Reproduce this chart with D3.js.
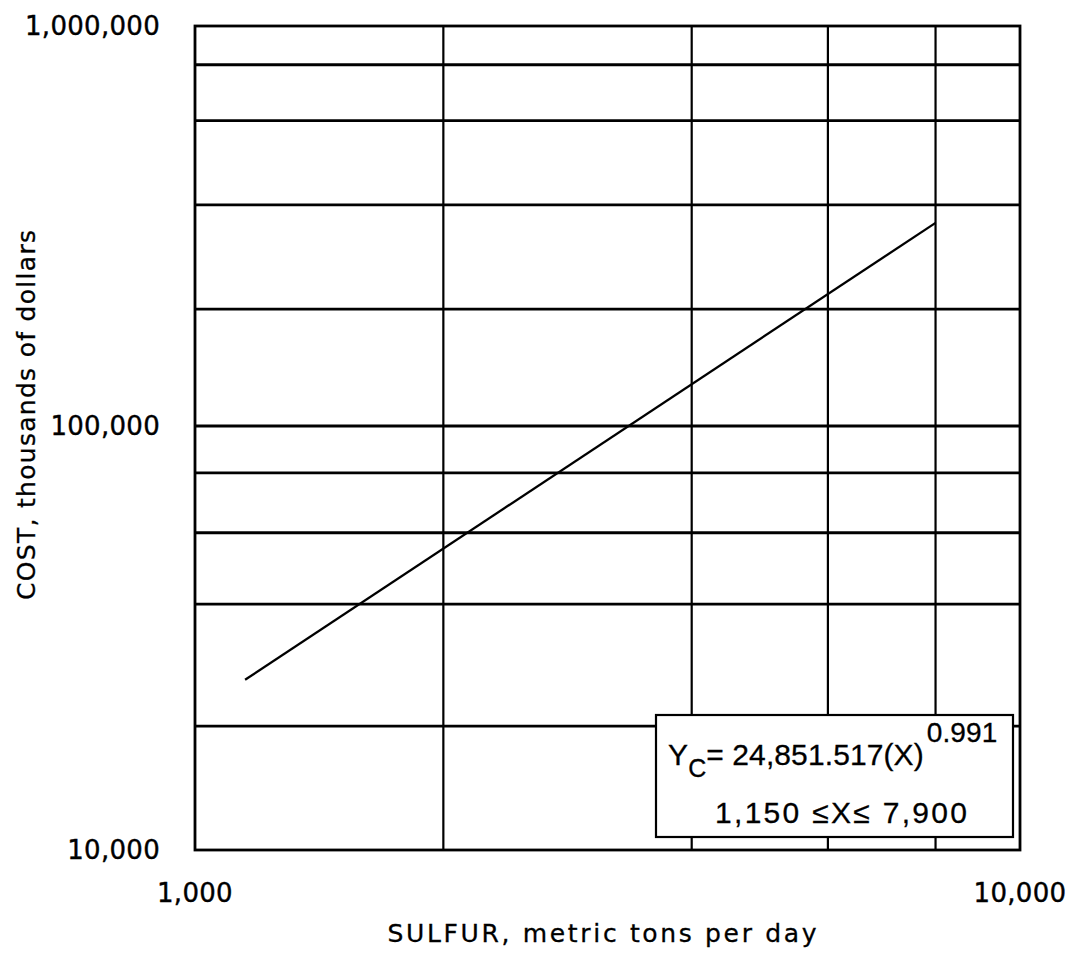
<!DOCTYPE html>
<html>
<head>
<meta charset="utf-8">
<script src="https://cdn.jsdelivr.net/npm/d3@7"></script>
<style>
  html, body { margin: 0; padding: 0; background: #fff; }
  svg { display: block; }
</style>
</head>
<body>
<svg id="chart" width="1078" height="964"></svg>
<script>
// Sulfur recovery cost curve, log-log
const xTicks = [1000, 10000];
const xTickLabels = ["1,000", "10,000"];
const yTicks = [10000, 100000, 1000000];
const yTickLabels = ["10,000", "100,000", "1,000,000"];

// intermediate grid lines
const xGrid = [2000, 4000, 5850, 7900];
const yGrid = [19600, 38000, 56000, 77500, 196000, 357000, 580000, 800000];

// fitted cost line (sulfur t/d, cost k$)
const sulfur = [1150, 7900];
const cost = [25200, 322000];

const equation = { coef: "24,851.517", exponent: "0.991", range: "1,150 \u2264X\u2264 7,900" };

const svg = d3.select("#chart");

const x = d3.scaleLog().domain([1000, 10000]).range([195, 1020]);
const y = d3.scaleLog().domain([10000, 100000, 1000000]).range([850, 426, 26]);

const tickFont = "'DejaVu Sans', sans-serif";

// grid
svg.append("g").selectAll("line").data(xGrid).join("line")
  .attr("x1", d => x(d)).attr("x2", d => x(d))
  .attr("y1", y(1000000)).attr("y2", y(10000))
  .attr("stroke", "#000").attr("stroke-width", 2.2);

svg.append("g").selectAll("line").data(yGrid.concat([100000])).join("line")
  .attr("x1", x(1000)).attr("x2", x(10000))
  .attr("y1", d => y(d)).attr("y2", d => y(d))
  .attr("stroke", "#000").attr("stroke-width", 2.8);

// frame
svg.append("rect")
  .attr("x", x(1000)).attr("y", y(1000000))
  .attr("width", x(10000) - x(1000)).attr("height", y(10000) - y(1000000))
  .attr("fill", "none").attr("stroke", "#000").attr("stroke-width", 2.8);

// fitted line
const pts = sulfur.map((s, i) => [s, cost[i]]);
svg.append("path")
  .datum(pts)
  .attr("d", d3.line().x(d => x(d[0])).y(d => y(d[1])))
  .attr("fill", "none").attr("stroke", "#000").attr("stroke-width", 2.3);

// y tick labels
svg.append("g").selectAll("text").data(yTicks).join("text")
  .attr("x", 160).attr("y", d => y(d)).attr("dy", "0.36em")
  .attr("text-anchor", "end")
  .attr("font-family", tickFont).attr("font-size", 26).attr("letter-spacing", 0.3)
  .attr("fill", "#000").attr("stroke", "#000").attr("stroke-width", 0.4)
  .text((d, i) => yTickLabels[i]);

// x tick labels
svg.append("g").selectAll("text").data(xTicks).join("text")
  .attr("x", d => x(d)).attr("y", 902)
  .attr("text-anchor", "middle")
  .attr("font-family", tickFont).attr("font-size", 26).attr("letter-spacing", 0.3)
  .attr("fill", "#000").attr("stroke", "#000").attr("stroke-width", 0.4)
  .text((d, i) => xTickLabels[i]);

// axis titles
svg.append("text")
  .attr("x", 602).attr("y", 942)
  .attr("text-anchor", "middle")
  .attr("font-family", tickFont).attr("font-size", 25)
  .attr("textLength", 429).attr("lengthAdjust", "spacing")
  .attr("fill", "#000").attr("stroke", "#000").attr("stroke-width", 0.3)
  .text("SULFUR, metric tons per day");

svg.append("text")
  .attr("transform", "translate(35,415) rotate(-90)")
  .attr("text-anchor", "middle")
  .attr("font-family", tickFont).attr("font-size", 25)
  .attr("textLength", 370).attr("lengthAdjust", "spacing")
  .attr("fill", "#000").attr("stroke", "#000").attr("stroke-width", 0.3)
  .text("COST, thousands of dollars");

// equation box
const box = svg.append("g");
box.append("rect")
  .attr("x", 656).attr("y", 715).attr("width", 357).attr("height", 122)
  .attr("fill", "#fff").attr("stroke", "#000").attr("stroke-width", 2.2);

const eqFont = "'Liberation Sans', Arial, sans-serif";
const eq = box.append("text")
  .attr("x", 668).attr("y", 765)
  .attr("font-family", eqFont).attr("font-size", 30).attr("letter-spacing", 0.1)
  .attr("fill", "#000").attr("stroke", "#000").attr("stroke-width", 0.3);
eq.append("tspan").text("Y");
eq.append("tspan").attr("dy", 12).attr("font-size", 25).text("C");
eq.append("tspan").attr("dy", -12).text("= " + equation.coef + "(X)");
eq.append("tspan").attr("dy", -23).attr("dx", 3).attr("font-size", 28).text(equation.exponent);

box.append("text")
  .attr("x", 841).attr("y", 823)
  .attr("text-anchor", "middle")
  .attr("font-family", eqFont).attr("font-size", 30)
  .attr("textLength", 252).attr("lengthAdjust", "spacing")
  .attr("fill", "#000").attr("stroke", "#000").attr("stroke-width", 0.3)
  .text(equation.range);
</script>
</body>
</html>
